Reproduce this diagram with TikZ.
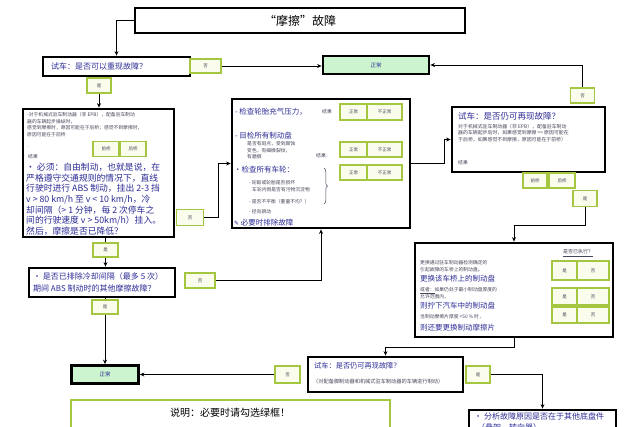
\documentclass[tikz,border=0pt]{standalone}
\usepackage{fontspec}
\setmainfont{Noto Sans CJK SC}
\newfontfamily\symfont{DejaVu Sans}
\usepackage{xcolor}
\definecolor{tickgreen}{RGB}{164,198,64}
\definecolor{tickfill}{RGB}{250,252,236}
\definecolor{okfill}{RGB}{204,244,206}
\definecolor{textblue}{RGB}{44,44,150}
\definecolor{notegray}{RGB}{70,70,90}
\usetikzlibrary{arrows.meta, decorations.pathreplacing}
\tikzset{
  stepframe/.style={draw=black, line width=2.8pt, fill=white, inner sep=0pt},
  okframe/.style={stepframe, fill=okfill, text=textblue,
                  font=\fontsize{5.5}{6}\selectfont},
  tickbox/.style={draw=tickgreen, line width=1.6pt, fill=tickfill, inner sep=0pt,
                  text=notegray, font=\fontsize{4.5}{5}\selectfont},
  bluetext/.style={text=textblue, inner sep=0pt, align=left},
  smalltext/.style={text=notegray, inner sep=0pt, align=left,
                    font=\fontsize{4.8}{6.8}\selectfont},
  flow/.style={line width=0.9pt, -{Stealth[length=4.5pt,width=4pt]}},
  plain/.style={line width=0.9pt},
}
\newcommand{\bigtxt}{\fontsize{7.5}{9}\selectfont}

\begin{document}
\begin{tikzpicture}[x=1pt, y=-1pt]

  \useasboundingbox (0,0) rectangle (628,426);
  \clip (0,0) rectangle (628,426);
  \fill[white] (0,0) rectangle (628,426);

  % Title and first test drive
  \node[stepframe, minimum width=330pt, minimum height=25pt,
        font=\fontsize{12}{14}\selectfont] (title) at (300,20.5)
    {“摩擦”故障};
  \node[stepframe, minimum width=147pt, minimum height=19pt] (trial1) at (116.5,66.5) {};
  \node[bluetext, anchor=west, font=\fontsize{8}{9}\selectfont] (trial1txt) at (51,66.5)
    {试车：是否可以重现故障？};
  \node[tickbox, minimum width=31pt, minimum height=14pt] (no1) at (205.5,66) {否};
  \node[tickbox, minimum width=24pt, minimum height=15pt] (yes1) at (99,85.5) {是};
  \node[okframe, minimum width=106pt, minimum height=18pt] (normal1) at (376,65) {正常};

  % Left column: free braking
  \node[stepframe, minimum width=151pt, minimum height=128pt] (box2) at (98.5,173) {};
  \node[smalltext, anchor=north west] (box2note) at (27,112)
    {-对于机械式驻车制动器（非 EPB），配备驻车制动\\
     器的车辆起步操纵时，\\
     感觉到摩擦时，原因可能在于后桥；感觉不到摩擦时，\\
     原因可能在于前桥};
  \node[smalltext, anchor=west] (box2dot) at (28,147) {.};
  \node[smalltext, anchor=west] (box2res) at (28,157) {结果};
  \node[tickbox, minimum width=26pt, minimum height=15pt] (front1) at (106,149) {前桥};
  \node[tickbox, minimum width=26pt, minimum height=15pt] (rear1) at (133,149) {后桥};
  \node[bluetext, anchor=north west, font=\fontsize{8.8}{10.6}\selectfont] (box2txt) at (26,163)
    {• 必须：自由制动，也就是说，在\\
     严格遵守交通规则的情况下，直线\\
     行驶时进行 ABS 制动，挂出 2-3 挡\\
     v > 80 km/h 至 v < 10 km/h，冷\\
     却间隔（> 1 分钟，每 2 次停车之\\
     间的行驶速度 v > 50km/h）挂入。\\
     然后，摩擦是否已降低？};
  \node[tickbox, minimum width=27pt, minimum height=16pt] (no2) at (190,217.5) {否};
  \node[tickbox, minimum width=25pt, minimum height=14pt] (yes2) at (105.5,250) {是};

  \node[stepframe, minimum width=146pt, minimum height=29pt] (box4) at (102,282.5) {};
  \node[bluetext, anchor=west, font=\fontsize{8}{12.5}\selectfont] (box4txt) at (33,282.5)
    {• 是否已排除冷却间隔（最多 5 次）\\
     期间 ABS 制动时的其他摩擦故障？};
  \node[tickbox, minimum width=30pt, minimum height=15pt] (no3) at (200,280.5) {否};
  \node[tickbox, minimum width=26pt, minimum height=14pt] (yes3) at (105,307) {是};
  \node[okframe, minimum width=67pt, minimum height=18pt] (normal2) at (105,374.5) {正常};

  % Middle column: checks
  \node[stepframe, minimum width=178pt, minimum height=129pt] (box3) at (321,163.5) {};
  \node[bluetext, anchor=west, font=\bigtxt] (tyre) at (235,112) {- 检查轮胎充气压力，};
  \node[smalltext, anchor=west] (tyreres) at (322,112) {结果};
  \node[tickbox, minimum width=27pt, minimum height=16pt] (ok1) at (353.5,112) {正常};
  \node[tickbox, minimum width=35pt, minimum height=16pt] (nok1) at (384.5,112) {不正常};
  \node[bluetext, anchor=west, font=\bigtxt] (disc) at (235,136) {- 目检所有制动盘};
  \node[smalltext, anchor=north west] (discnote) at (247,141)
    {是否有斑点，受到腐蚀\\ 变色，有细微裂纹，\\ 有磨痕};
  \node[smalltext, anchor=west] (discres) at (316,156) {结果：};
  \node[tickbox, minimum width=27pt, minimum height=15pt] (ok2) at (353.5,149.5) {正常};
  \node[tickbox, minimum width=35pt, minimum height=15pt] (nok2) at (384.5,149.5) {不正常};
  \node[bluetext, anchor=west, font=\bigtxt] (wheel) at (234,170) {•检查所有车轮：};
  \node[smalltext, anchor=north west] (wheelnote) at (249,180)
    {- 轮毂或轮胎是否损坏\\ \hspace*{3pt}车轮内侧是否有污物沉淀物};
  \node[smalltext, anchor=west] (balance) at (249,202) {- 是否不平衡（重量不均？）};
  \node[smalltext, anchor=west] (runout) at (249,212) {- 径向跳动};
  \node[tickbox, minimum width=27pt, minimum height=15pt] (ok3) at (353.5,172.5) {正常};
  \node[tickbox, minimum width=35pt, minimum height=15pt] (nok3) at (384.5,172.5) {不正常};
  \node[bluetext, anchor=west, font=\bigtxt] (repair) at (234,223)
    {{\symfont\fontsize{6}{7}\selectfont ✎} 必要时排除故障};
  \draw[decorate, decoration={brace, amplitude=3.5pt}, line width=0.5pt, notegray]
    (324,168) -- (324,204);

  % Right column: second test drive and repair
  \node[stepframe, minimum width=153pt, minimum height=65pt] (box5) at (528.5,139.5) {};
  \node[bluetext, anchor=west, font=\fontsize{8.5}{10}\selectfont] (box5title) at (458,116)
    {试车：是否仍可再现故障？};
  \node[smalltext, anchor=north west, font=\fontsize{4.9}{6.6}\selectfont] (box5note) at (458,124)
    {对于机械式驻车制动器（非 EPB），配备驻车制动\\
     器的车辆起步后时，如果感觉到摩擦 => 原因可能在\\
     于后桥，如果感觉不到摩擦，原因可能在于前桥）};
  \node[smalltext, anchor=west] (box5res) at (458,163) {结果};
  \node[tickbox, minimum width=24pt, minimum height=15pt] (no4) at (582.5,95.5) {否};
  \node[tickbox, minimum width=24pt, minimum height=15pt] (front2) at (535,180.5) {前桥};
  \node[tickbox, minimum width=26pt, minimum height=15pt] (rear2) at (562,180.5) {后桥};
  \node[tickbox, minimum width=24pt, minimum height=16pt] (yes4) at (585,198.5) {是};

  \node[stepframe, minimum width=198pt, minimum height=94pt] (box6) at (514,290) {};
  \node[smalltext, font=\fontsize{5}{6}\selectfont] (done) at (578,253) {\underline{是否已执行？}};
  \node[smalltext, anchor=north west] (renote) at (420,260)
    {更换通过驻车制动器检测确定的\\ 引起故障的车桥上的制动盘。};
  \node[bluetext, anchor=west, font=\bigtxt] (renew) at (420,279) {更换该车桥上的制动盘};
  \node[smalltext, anchor=north west] (ornote) at (420,287)
    {\underline{或者：}如果仍处于最小制动盘厚度的\\ 允许范围内，};
  \node[bluetext, anchor=west, font=\bigtxt] (unscrew) at (420,306) {则拧下汽车中的制动盘};
  \node[smalltext, anchor=west] (padnote) at (420,317) {当制动摩擦片厚度 <50 \% 时，};
  \node[bluetext, anchor=west, font=\bigtxt] (pads) at (420,328) {则还要更换制动摩擦片};
  \node[tickbox, minimum width=25pt, minimum height=19pt] (yesA) at (564.5,270.5) {是};
  \node[tickbox, minimum width=32pt, minimum height=19pt] (noA) at (593,270.5) {否};
  \node[tickbox, minimum width=25pt, minimum height=17pt] (yesB) at (564.5,296.5) {是};
  \node[tickbox, minimum width=32pt, minimum height=17pt] (noB) at (593,296.5) {否};
  \node[tickbox, minimum width=25pt, minimum height=16pt] (yesC) at (564.5,315) {是};
  \node[tickbox, minimum width=32pt, minimum height=16pt] (noC) at (593,315) {否};

  % Bottom row
  \node[stepframe, minimum width=155pt, minimum height=35pt] (box7) at (385.5,374.5) {};
  \node[bluetext, anchor=west, font=\fontsize{7.2}{8}\selectfont] (box7title) at (314,366)
    {试车：是否仍可再现故障？};
  \node[smalltext, anchor=west, font=\fontsize{5.2}{6}\selectfont] (box7note) at (313,382)
    {（对配备脚制动器和机械式驻车制动器的车辆进行制动）};
  \node[tickbox, minimum width=25pt, minimum height=17pt] (no5) at (287.5,374.5) {否};
  \node[tickbox, minimum width=24pt, minimum height=17pt] (yes5) at (478,374.5) {是};

  \node[draw=tickgreen, line width=2.4pt, fill=white, minimum width=319pt,
        minimum height=40pt] (note) at (230.5,420) {};
  \node[inner sep=0pt, font=\fontsize{10}{12}\selectfont] (notetxt) at (230,413)
    {说明：必要时请勾选绿框！};
  \node[stepframe, minimum width=147pt, minimum height=30pt] (box8) at (542.5,425) {};
  \node[bluetext, anchor=north west, font=\fontsize{8}{11}\selectfont] (box8txt) at (474,412)
    {• 分析故障原因是否在于其他底盘件\\ \hspace*{3pt}（悬架、转向器）};

  \coordinate (bend2) at (514,225);
  \coordinate (bend3) at (385.5,347);

  \draw[flow] (title.west) -| (trial1.north);
  \draw[flow] (no1.east) -- (no1.east -| normal1.west);
  \draw[flow] (no4.north) |- (normal1.east);
  \draw[flow] (yes1.south) -- (yes1.south |- box2.north);
  \draw[flow] (no2.east) -- ++(14,0) |- (box3.west);
  \draw[plain] (yes2.north) -- (yes2.north |- box2.south);
  \draw[flow] (yes2.south) -- (yes2.south |- box4.north);
  \draw[flow] (no3.east) -| (box3.south);
  \draw[plain] (yes3.north) -- (yes3.north |- box4.south);
  \draw[flow] (yes3.south) -- (normal2.north);
  \draw[flow] (box3.east) -- ++(33,0) |- (box5.west);
  \draw[flow] (yes4.south) |- (bend2) -- (box6.north);
  \draw[flow] (box6.south) |- (bend3) -- (box7.north);
  \draw[flow] (no5.west) -- (normal2.east);
  \draw[flow] (yes5.east) -| (box8.north);

\end{tikzpicture}
\end{document}
